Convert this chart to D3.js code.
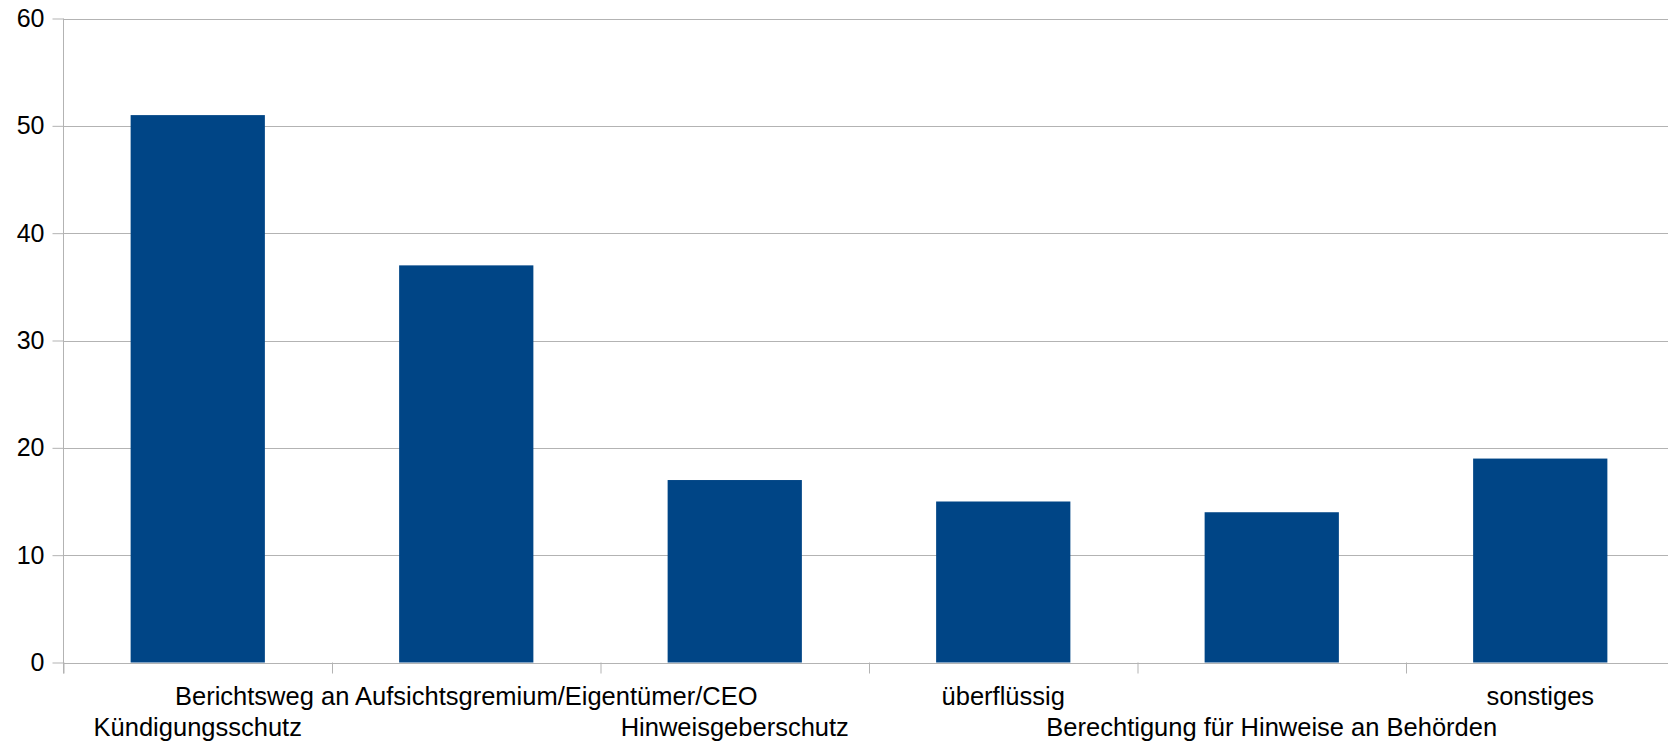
<!DOCTYPE html>
<html>
<head>
<meta charset="utf-8">
<script src="https://cdn.jsdelivr.net/npm/d3@7"></script>
<style>
  html, body { margin: 0; padding: 0; background: #fff; overflow: hidden; }
  svg { display: block; font-family: "Liberation Sans", Arial, sans-serif; }
</style>
</head>
<body>
<div id="chart"></div>
<script>
const categories = [
  "Kündigungsschutz",
  "Berichtsweg an Aufsichtsgremium/Eigentümer/CEO",
  "Hinweisgeberschutz",
  "überflüssig",
  "Berechtigung für Hinweise an Behörden",
  "sonstiges"
];
const values = [51, 37, 17, 15, 14, 19];
const yTicks = [0, 10, 20, 30, 40, 50, 60];

/** Layout */
const width = 1668, height = 743;
const plot = { left: 63.5, right: 1674.5, top: 18.5, bottom: 662.5 };

const svg = d3.select("#chart")
  .append("svg")
  .attr("width", width)
  .attr("height", height);

const y = d3.scaleLinear()
  .domain([0, 60])
  .range([plot.bottom, plot.top]);

// band scale for bars/labels, linear one for the boundary ticks
const x = d3.scaleBand()
  .domain(categories)
  .range([plot.left, plot.right])
  .paddingInner(0.5)
  .paddingOuter(0.25);

const xEdges = d3.scaleLinear()
  .domain([0, categories.length])
  .range([plot.left, plot.right]);

/** Gridlines */
svg.append("g")
  .attr("class", "grid")
  .selectAll("line")
  .data(yTicks)
  .enter()
  .append("line")
  .attr("x1", plot.left)
  .attr("x2", plot.right)
  .attr("y1", d => Math.round(y(d)) + 0.5)
  .attr("y2", d => Math.round(y(d)) + 0.5)
  .attr("stroke", "#b3b3b3")
  .attr("stroke-width", 1);

/** Bars */
svg.append("g")
  .attr("class", "bars")
  .selectAll("rect")
  .data(values)
  .enter()
  .append("rect")
  .attr("x", (d, i) => x(categories[i]))
  .attr("y", d => y(d))
  .attr("width", x.bandwidth())
  .attr("height", d => y(0) - y(d))
  .attr("fill", "#004586");

/** Y axis */
const yAxis = svg.append("g")
  .attr("transform", "translate(" + plot.left + ",0)")
  .call(d3.axisLeft(y).tickValues(yTicks).tickSize(11).tickPadding(8).tickFormat(d3.format("d")));
yAxis.select("path.domain")
  .attr("d", "M0," + plot.top + "V" + (plot.bottom + 11))
  .attr("stroke", "#b3b3b3");
yAxis.selectAll(".tick line").attr("stroke", "#b3b3b3");
yAxis.selectAll(".tick text")
  .attr("fill", "#000")
  .style("font-size", "25px")
  .style("font-family", "'Liberation Sans', Arial, sans-serif");

/** X axis ticks at category boundaries */
const xAxis = svg.append("g")
  .attr("transform", "translate(0," + plot.bottom + ")")
  .call(d3.axisBottom(xEdges).tickValues(d3.range(0, categories.length + 1)).tickSize(11).tickFormat(""));
xAxis.select("path.domain").remove();
xAxis.selectAll(".tick line").attr("stroke", "#b3b3b3");

/** Staggered category labels */
svg.append("g")
  .attr("class", "x-labels")
  .selectAll("text")
  .data(categories)
  .enter()
  .append("text")
  .attr("x", d => x(d) + x.bandwidth() / 2)
  .attr("y", (d, i) => i % 2 === 0 ? 736 : 705)
  .attr("text-anchor", "middle")
  .attr("fill", "#000")
  .style("font-size", "25.5px")
  .text(d => d);
</script>
</body>
</html>
